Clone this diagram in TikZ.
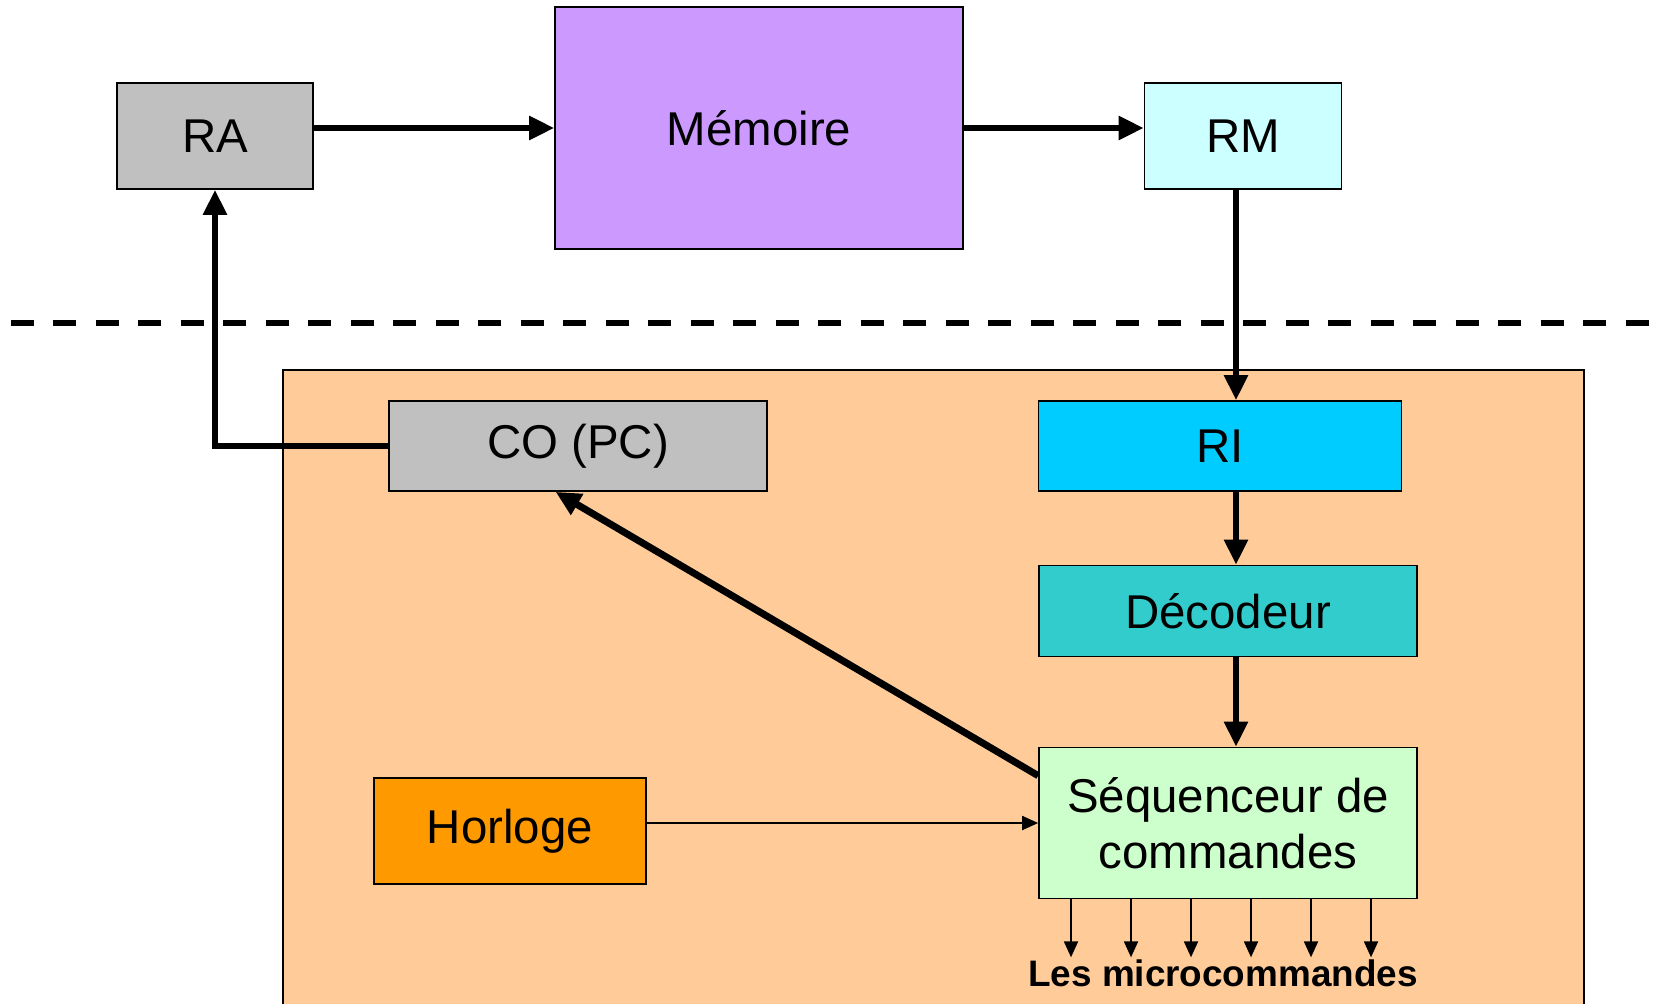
\documentclass[tikz,border=0pt]{standalone}
\usepackage{fontspec}
\setmainfont{Liberation Sans}
\usepackage{tikz}
\usetikzlibrary{arrows.meta,positioning,calc}
\usepackage{xcolor}
\definecolor{RegGray}{HTML}{C0C0C0}
\definecolor{MemViolet}{HTML}{CC99FF}
\definecolor{RmCyan}{HTML}{CCFFFF}
\definecolor{UcPeach}{HTML}{FFCC99}
\definecolor{RiBlue}{HTML}{00CCFF}
\definecolor{DecTeal}{HTML}{33CCCC}
\definecolor{SeqGreen}{HTML}{CCFFCC}
\definecolor{ClkOrange}{HTML}{FF9900}
\tikzset{
  regbox/.style={draw, line width=1pt, inner sep=0pt, align=center,
    font=\fontsize{27}{32}\selectfont, fill=#1},
  regbox/.default={white},
  busarr/.style={-{Triangle[length=0.5cm,width=0.46cm]}, line width=3.2pt},
  sigarr/.style={-{Triangle[length=0.32cm,width=0.28cm]}, line width=1.1pt},
}

\begin{document}
\begin{tikzpicture}[x=0.02cm, y=-0.02cm,
  sep/.style={line width=3.4pt, dash pattern=on 0.46cm off 0.39cm},
]
  \useasboundingbox (0,0) rectangle (1662,1004);
  % unite de commande
  \fill[UcPeach] (283,370) rectangle (1584,1004);
  \draw[line width=1pt] (283,1004) |- (1584,370) -- (1584,1004);
  \draw[sep] (11,323) -- (1662,323);

  \node[regbox=RegGray, minimum width=3.92cm, minimum height=2.12cm] (RA) at (215,136) {RA};
  \node[regbox=MemViolet, minimum width=8.16cm, minimum height=4.84cm] (mem) at (759,128) {Mémoire};
  \node[regbox=RmCyan, minimum width=3.94cm, minimum height=2.12cm] (RM) at (1243,136) {RM};

  \node[regbox=RegGray, minimum width=7.56cm, minimum height=1.8cm] (CO) at (578,446) {CO (PC)};
  \node[regbox=RiBlue, minimum width=7.26cm, minimum height=1.8cm] (RI) at (1220,446) {RI};
  \node[regbox=DecTeal, minimum width=7.56cm, minimum height=1.82cm] (dec) at (1228,611) {Décodeur};
  \node[regbox=SeqGreen, minimum width=7.56cm, minimum height=3.02cm] (seq) at (1228,823) {Séquenceur de\\commandes};
  \node[regbox=ClkOrange, minimum width=5.44cm, minimum height=2.12cm] (clk) at (510,831) {\raisebox{-0.1cm}{Horloge}};
  \node[font=\fontsize{21}{25}\selectfont\bfseries, inner sep=1pt] (micro) at (1223,973) {Les microcommandes};

  \coordinate (bus) at (1236,0);

  \draw[busarr] (RA.east |- mem.west) -- (mem.west);
  \draw[busarr] (mem.east) -- (RM.west |- mem.east);
  \draw[busarr] (RM.south -| bus) -- (RI.north -| bus);
  \draw[busarr] (RI.south -| bus) -- (dec.north -| bus);
  \draw[busarr] (dec.south -| bus) -- (seq.north -| bus);
  \draw[busarr] (CO.west) -| (RA.south);
  \draw[busarr, line width=4pt] (seq.166) -- (CO.244);
  \draw[sigarr] (clk.east |- seq.west) -- (seq.west);
  \foreach \x in {1071,1131,...,1371}
    \draw[sigarr] (\x,0 |- seq.south) -- (\x,0 |- micro.north);
\end{tikzpicture}
\end{document}
